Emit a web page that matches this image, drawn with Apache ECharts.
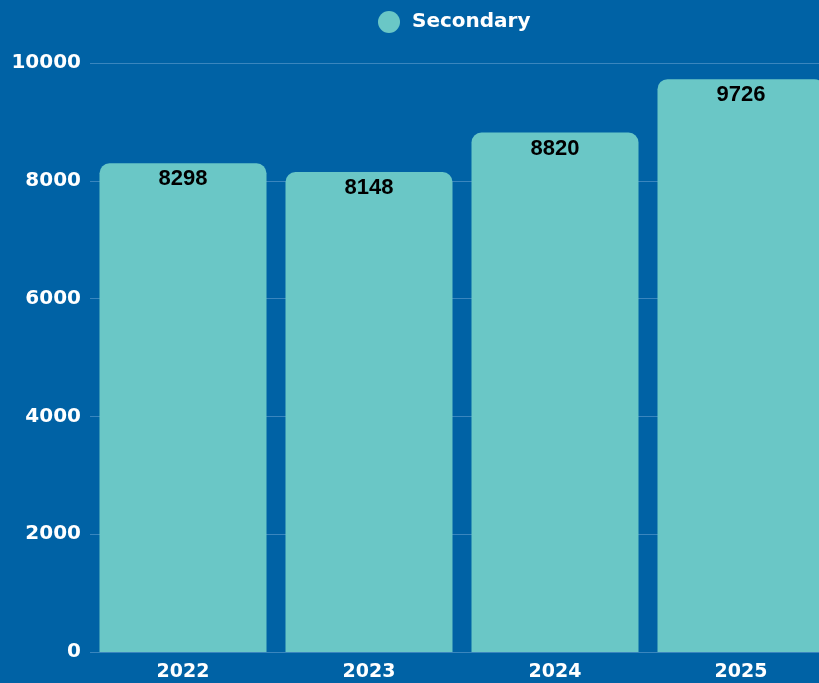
<!DOCTYPE html>
<html>
<head>
<meta charset="utf-8">
<script src="https://cdn.jsdelivr.net/npm/echarts@6/dist/echarts.min.js"></script>
<style>
  html, body { margin: 0; padding: 0; background: #0062A5; }
  #chart { width: 819px; height: 683px; }
</style>
</head>
<body>
<div id="chart"></div>
<script>
// Enrolment per year, secondary level
const years = ['2022', '2023', '2024', '2025'];
const secondary = [8298, 8148, 8820, 9726];
const yTicks = [0, 2000, 4000, 6000, 8000, 10000];

const chart = echarts.init(document.getElementById('chart'));
chart.setOption({
  backgroundColor: '#0062A5',
  animation: false,
  legend: {
    top: 6,
    left: 373,
    icon: 'circle',
    itemWidth: 22,
    itemHeight: 22,
    itemGap: 8,
    textStyle: { color: '#ffffff', fontSize: 20, fontWeight: 'bold', fontFamily: 'DejaVu Sans', padding: [0, 0, 0, 7] },
    data: ['Secondary']
  },
  // the plot runs past the right edge, so the last bar is clipped
  grid: { left: 90, top: 63, right: -15, bottom: 31, outerBoundsMode: 'none', containLabel: false },
  xAxis: {
    type: 'category',
    data: years,
    axisLine: { show: false },
    axisTick: { show: false },
    axisLabel: { color: '#ffffff', fontSize: 19, fontWeight: 'bold', fontFamily: 'DejaVu Sans', margin: 11 }
  },
  yAxis: {
    type: 'value',
    min: yTicks[0],
    max: yTicks[yTicks.length - 1],
    interval: 2000,
    axisLine: { show: false },
    axisTick: { show: false },
    axisLabel: {
      color: '#ffffff', fontSize: 20, fontWeight: 'bold', fontFamily: 'DejaVu Sans', margin: 9,
      formatter: v => String(v)
    },
    splitLine: { lineStyle: { color: '#3A86BE', width: 1 } }
  },
  series: [{
    name: 'Secondary',
    type: 'bar',
    data: secondary,
    barWidth: 167,
    itemStyle: { color: '#6AC7C6', borderRadius: [10, 10, 0, 0] },
    label: {
      show: true,
      position: 'insideTop',
      distance: 5,
      color: '#000000',
      fontSize: 22,
      fontWeight: 'bold',
      fontFamily: 'Liberation Sans'
    }
  }]
});
</script>
</body>
</html>
